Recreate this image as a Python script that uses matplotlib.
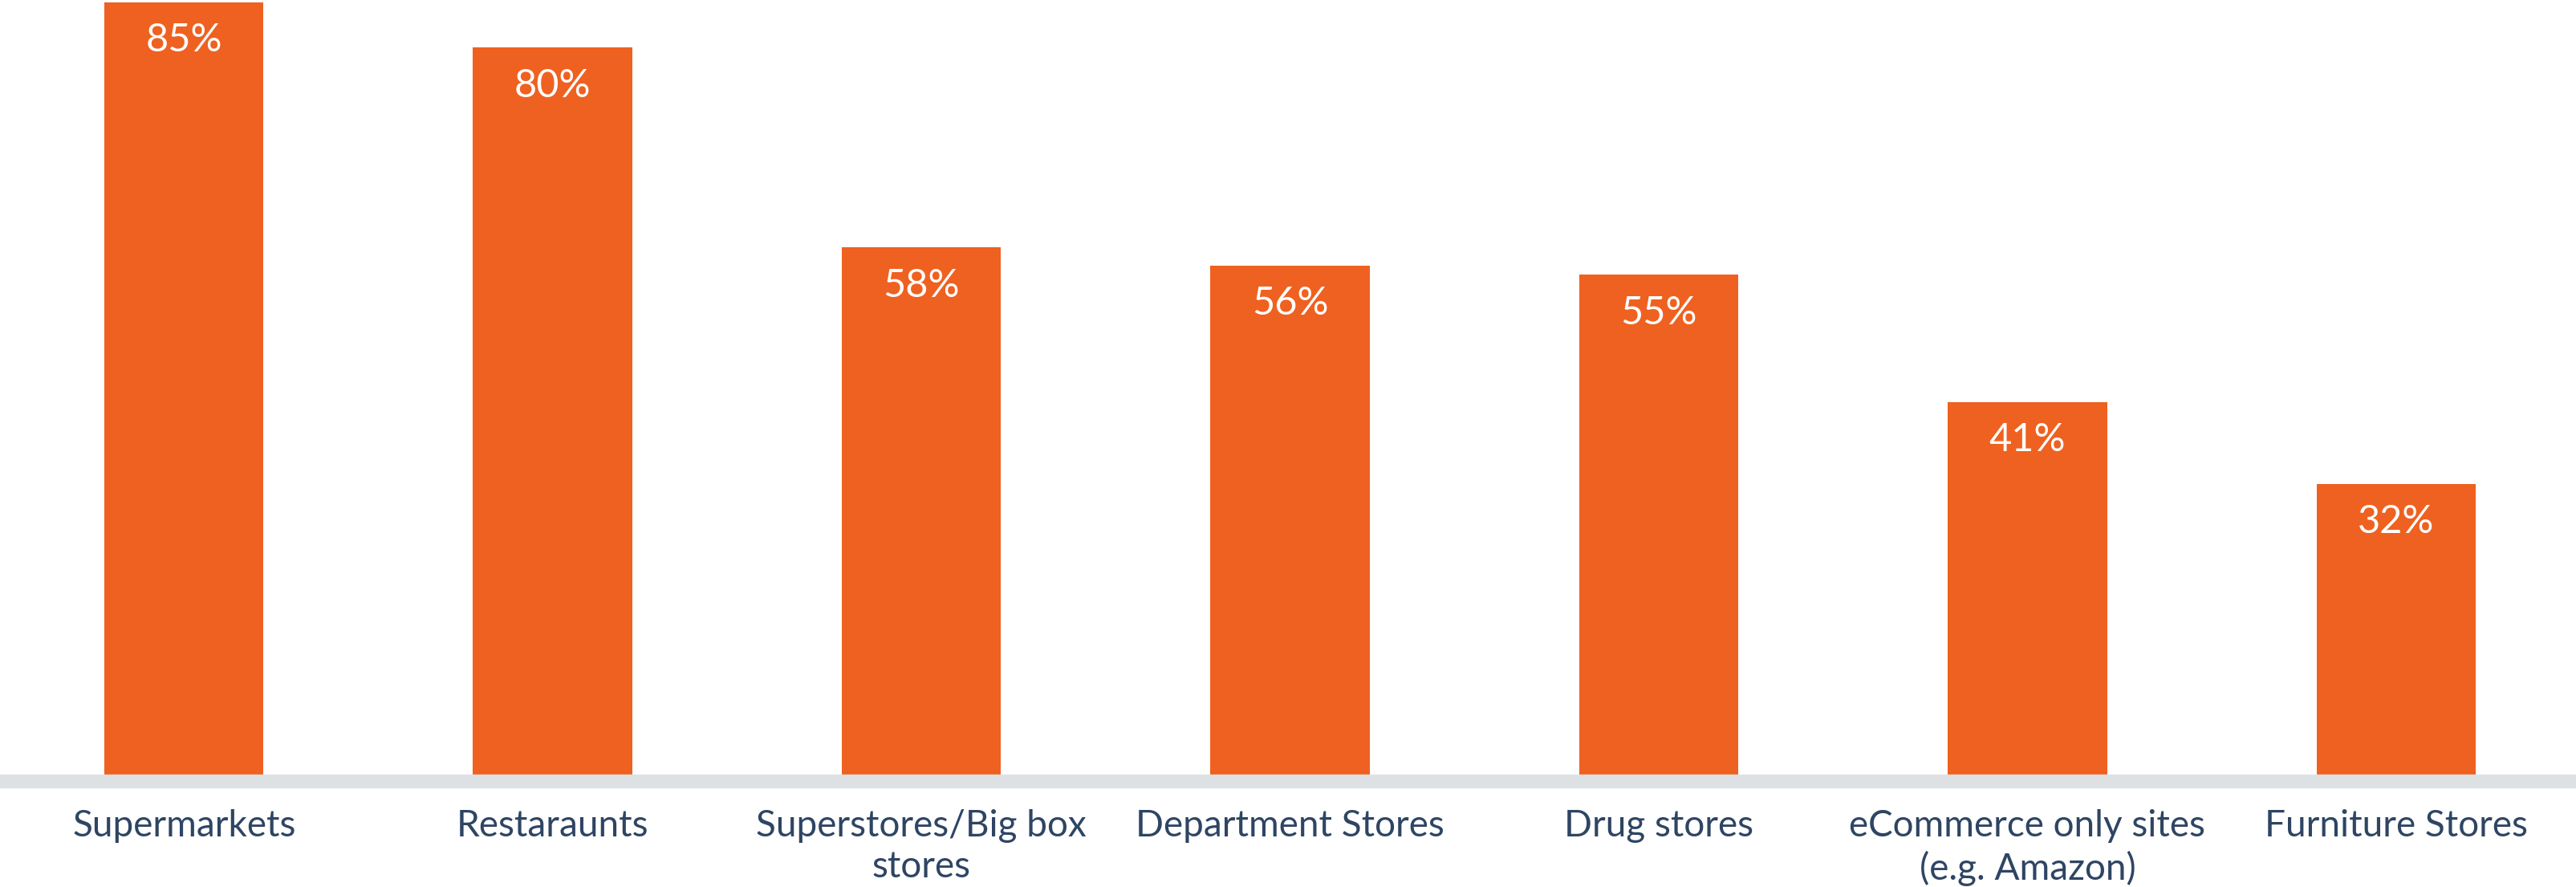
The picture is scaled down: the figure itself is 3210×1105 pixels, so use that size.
import matplotlib
matplotlib.use('Agg')
import matplotlib.pyplot as plt
from matplotlib.patches import Rectangle

categories = ['Supermarkets', 'Restaraunts', 'Superstores/Big box\nstores',
              'Department Stores', 'Drug stores', 'eCommerce only sites\n(e.g. Amazon)',
              'Furniture Stores']
shares = [85, 80, 58, 56, 55, 41, 32]

BAR_COLOR = '#EF6120'
TEXT_COLOR = '#2E4563'
BAND_COLOR = '#DEE1E4'

plt.rcParams['font.family'] = ['Lato', 'DejaVu Sans']

fig = plt.figure(figsize=(32.1, 11.05), dpi=100)
ax = fig.add_axes([0, 0.1267, 1, 0.8733])

x = list(range(len(categories)))
ax.bar(x, shares, width=0.432, color=BAR_COLOR, zorder=2)

# 数值标签放在柱子顶部内侧
for xi, v in zip(x, shares):
    ax.annotate(f'{v}%', xy=(xi, v), xytext=(0, -44), textcoords='offset points',
                ha='center', va='baseline', color='white', fontsize=35)

ax.set_xlim(-0.499, 6.488)
ax.set_ylim(0, 85.25)

ax.set_xticks(x)
ax.set_xticklabels(categories, fontsize=33, color=TEXT_COLOR, linespacing=1.27)
ax.tick_params(axis='x', length=0, pad=31)
ax.set_yticks([])
for s in ax.spines.values():
    s.set_visible(False)

# 底部灰色基线条
fig.patches.append(Rectangle((0, 0.1122), 1, 0.0145, transform=fig.transFigure,
                             color=BAND_COLOR, zorder=0))

fig.savefig('out.png', dpi=100, facecolor='white')
